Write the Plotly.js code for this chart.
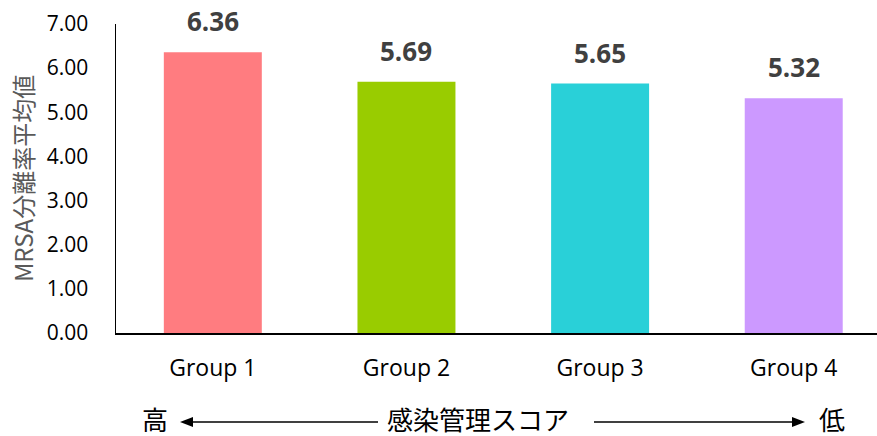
<!DOCTYPE html>
<html>
<head>
<meta charset="utf-8">
<script src="https://cdn.plot.ly/plotly-3.0.1.min.js"></script>
<style>html,body{margin:0;padding:0;background:#fff;}#chart{width:877px;height:436px;}</style>
</head>
<body>
<div id="chart"></div>
<script>
const categories = ["Group 1", "Group 2", "Group 3", "Group 4"];
const values = [6.36, 5.69, 5.65, 5.32];
const valueLabels = ["6.36", "5.69", "5.65", "5.32"];
const barColors = ["#FF7C80", "#99CC00", "#29D0D8", "#CC99FF"];
const yTickVals = [0, 1, 2, 3, 4, 5, 6, 7];
const yTickText = ["0.00", "1.00", "2.00", "3.00", "4.00", "5.00", "6.00", "7.00"];
const yTitle = "MRSA分離率平均値";
const scaleLabel = "感染管理スコア";
const highLabel = "高";
const lowLabel = "低";

const trace = {
  type: "bar",
  x: categories,
  y: values,
  width: 0.506,
  marker: {color: barColors},
  hoverinfo: "none"
};

const valueAnnotations = categories.map((c, i) => ({
  x: c, y: values[i], xref: "x", yref: "y",
  text: "<b>" + valueLabels[i] + "</b>",
  showarrow: false, yanchor: "bottom", yshift: 11,
  font: {family: "Open Sans, sans-serif", size: 26, color: "#404040"}
}));

const ty = -0.2783;
const ay = -0.2880;
const jpFont = {family: "Noto Sans CJK JP, sans-serif", size: 26, color: "#000"};
const bottomAnnotations = [
  {xref: "paper", yref: "paper", x: 0.0512, y: ty, text: highLabel, showarrow: false, xanchor: "center", yanchor: "middle", font: jpFont},
  {xref: "paper", yref: "paper", x: 0.4757, y: ty, text: scaleLabel, showarrow: false, xanchor: "center", yanchor: "middle", font: jpFont},
  {xref: "paper", yref: "paper", x: 0.9409, y: ty, text: lowLabel, showarrow: false, xanchor: "center", yanchor: "middle", font: jpFont}
];

const dy = 0.0162;
const shapes = [
  {type: "line", xref: "paper", yref: "paper", x0: 0.098, x1: 0.3443, y0: ay, y1: ay, line: {color: "#000", width: 1.5}},
  {type: "path", xref: "paper", yref: "paper", path: `M 0.0841 ${ay} L 0.1012 ${ay + dy} L 0.1012 ${ay - dy} Z`, fillcolor: "#000", line: {color: "#000", width: 0}},
  {type: "line", xref: "paper", yref: "paper", x0: 0.6281, x1: 0.890, y0: ay, y1: ay, line: {color: "#000", width: 1.5}},
  {type: "path", xref: "paper", yref: "paper", path: `M 0.9054 ${ay} L 0.8883 ${ay + dy} L 0.8883 ${ay - dy} Z`, fillcolor: "#000", line: {color: "#000", width: 0}}
];

const layout = {
  width: 877, height: 436,
  margin: {l: 116, r: 0, t: 24, b: 103},
  paper_bgcolor: "#fff", plot_bgcolor: "#fff",
  showlegend: false,
  xaxis: {
    type: "category", range: [-0.5, 3.43],
    showline: true, linecolor: "#000", linewidth: 1.5,
    showgrid: false, zeroline: false, ticks: "",
    ticklabelstandoff: 14,
    tickfont: {family: "Open Sans, sans-serif", size: 23, color: "#000"}
  },
  yaxis: {
    range: [0, 7], tickvals: yTickVals, ticktext: yTickText,
    showline: true, linecolor: "#000", linewidth: 1.5,
    showgrid: false, zeroline: false, ticks: "",
    ticklabelstandoff: 22,
    tickfont: {family: "Open Sans, sans-serif", size: 21, color: "#000"},
    title: {text: yTitle, standoff: 6, font: {family: "Noto Sans CJK JP, sans-serif", size: 24, color: "#595959"}}
  },
  annotations: valueAnnotations.concat(bottomAnnotations),
  shapes: shapes
};

Plotly.newPlot("chart", [trace], layout, {displayModeBar: false, staticPlot: true});
</script>
</body>
</html>
